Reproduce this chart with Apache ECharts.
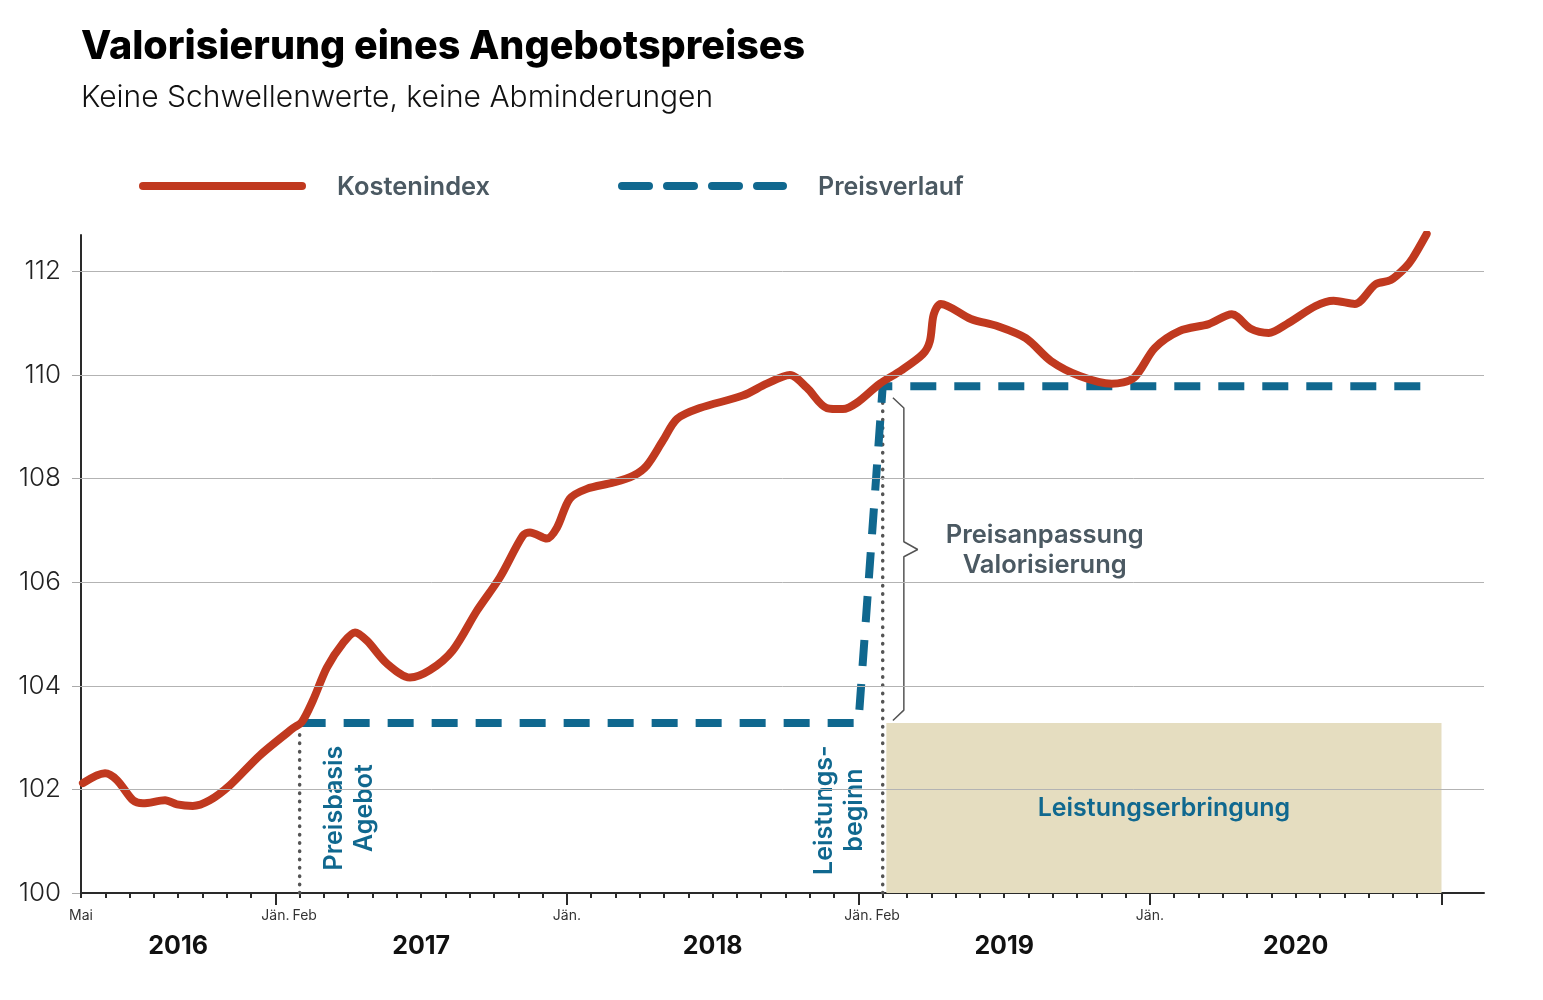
<!DOCTYPE html>
<html>
<head>
<meta charset="utf-8">
<script src="https://cdn.jsdelivr.net/npm/echarts@6/dist/echarts.min.js"></script>
<style>
html,body{margin:0;padding:0;background:#fff;}
#chart{width:1543px;height:1000px;}
</style>
</head>
<body>
<div id="chart"></div>
<script>
// ---- Data (x = months since Jan 2016; Mai 2016 = 4) ----
const kostenMonths = [4.08,4.99,5.48,6.14,6.55,7.46,7.95,8.6,9.3,10.13,11.37,12.73,13.09,13.55,14.12,14.78,15.28,15.77,16.59,17.54,18.36,19.3,20.3,21.24,22.19,22.48,23.18,23.59,24.12,24.82,25.89,26.72,27.29,27.95,28.53,29.47,31.24,32.23,33.18,33.88,34.7,35.36,35.93,36.88,37.74,38.65,38.94,39.1,39.39,40.63,41.74,42.89,43.92,45.11,46.43,47.33,48.2,49.23,50.42,51.37,52.15,52.89,53.63,54.82,55.56,56.43,57.29,57.91,58.49,58.81,59.39];
const kostenValues = [102.12,102.31,102.18,101.79,101.73,101.79,101.71,101.68,101.79,102.08,102.66,103.18,103.3,103.72,104.35,104.82,105.03,104.87,104.43,104.16,104.3,104.68,105.45,106.09,106.9,106.96,106.84,107.05,107.61,107.8,107.92,108.05,108.25,108.73,109.15,109.36,109.6,109.83,110.0,109.75,109.36,109.34,109.46,109.83,110.08,110.4,110.65,111.17,111.37,111.08,110.94,110.71,110.27,109.98,109.83,109.94,110.52,110.85,110.98,111.17,110.89,110.81,110.98,111.33,111.43,111.37,111.75,111.83,112.06,112.25,112.72];

const preisMonths = [13, 36, 37, 59.2];
const preisValues = [103.28, 103.28, 109.78, 109.78];

const yTickValues = [100, 102, 104, 106, 108, 110, 112];
const gridLineValues = [102, 104, 106, 108, 110, 112];

const monthLabelPos = [4, 12, 13, 24, 36, 37, 48];
const monthLabelText = ['Mai', 'Jän.', 'Feb', 'Jän.', 'Jän.', 'Feb', 'Jän.'];
const yearLabelPos = [8, 18, 30, 42, 54];
const yearLabelText = ['2016', '2017', '2018', '2019', '2020'];
const yearTickPos = [12, 24, 36, 48, 60];

const leistungStart = 37.15, leistungEnd = 60, preisBasis = 103.28;

const braceMonths = [37.42, 37.87, 37.87, 38.44, 37.87, 37.87, 37.42];
const braceValues = [109.56, 109.36, 106.78, 106.63, 106.49, 103.53, 103.33];

const RED = '#c0391f', BLUE = '#10688f', GREY_TXT = '#4b5962', FONT = 'Inter';

const monthTicks = [];
for (let m = 4; m <= 60; m++) monthTicks.push(m);

const chart = echarts.init(document.getElementById('chart'), null, {renderer: 'canvas'});

const zip = (a, b) => a.map((v, i) => [v, b[i]]);

const option = {
  animation: false,
  backgroundColor: '#fff',
  textStyle: {fontFamily: FONT},
  grid: {left: 81, right: 59, top: 235, bottom: 107, containLabel: false},
  xAxis: [
    {
      type: 'value', min: 4, max: 61.75, interval: 1, position: 'bottom',
      axisLine: {show: true, lineStyle: {color: '#2a2a2a', width: 2}},
      axisTick: {show: true, customValues: monthTicks, length: 5, lineStyle: {color: '#2a2a2a', width: 2}},
      axisLabel: {
        show: true, customValues: monthLabelPos,
        formatter: v => {
          const t = monthLabelText[monthLabelPos.indexOf(v)] || '';
          return t === 'Feb' ? '{f|Feb}' : t;
        },
        rich: {f: {fontSize: 14, color: '#333', fontFamily: FONT, padding: [0, 0, 0, 10]}},
        fontSize: 14, color: '#333', margin: 16, fontFamily: FONT
      },
      splitLine: {show: false}
    },
    {
      type: 'value', min: 4, max: 61.75, interval: 1, position: 'bottom',
      axisLine: {show: false},
      axisTick: {show: true, customValues: yearTickPos, length: 12, lineStyle: {color: '#2a2a2a', width: 2}},
      axisLabel: {
        show: true, customValues: yearLabelPos,
        formatter: v => yearLabelText[yearLabelPos.indexOf(v)] || '',
        fontSize: 25, fontWeight: 'bold', color: '#111', margin: 41, fontFamily: FONT
      },
      splitLine: {show: false}
    }
  ],
  yAxis: {
    type: 'value', min: 100, max: 112.7, interval: 2,
    axisLine: {show: true, lineStyle: {color: '#2a2a2a', width: 2}},
    axisTick: {show: true, customValues: yTickValues, length: 9, lineStyle: {color: '#aaa', width: 1}},
    axisLabel: {customValues: yTickValues, fontSize: 26, color: '#222', margin: 20, fontWeight: 300, fontFamily: FONT},
    splitLine: {show: false}
  },
  series: [
    {
      name: 'helper', type: 'line', data: [[4, 100]], symbol: 'none',
      lineStyle: {opacity: 0}, z: 1, silent: true,
      markLine: {
        silent: true, symbol: ['none', 'none'], label: {show: false},
        lineStyle: {color: '#b3b3b3', width: 1, type: 'solid'},
        data: gridLineValues.map(v => ({yAxis: v}))
      },
      markArea: {
        silent: true,
        itemStyle: {color: '#e5ddc0'},
        label: {show: true, position: 'inside', fontSize: 25, fontWeight: 600, color: BLUE, fontFamily: FONT},
        data: [[{name: 'Leistungserbringung', coord: [leistungStart, 100]}, {coord: [leistungEnd, preisBasis]}]]
      }
    },
    {
      name: 'dot1', type: 'line', symbol: 'none', silent: true, z: 2,
      data: [[13, 100], [13, 103.2]],
      lineStyle: {color: '#555', width: 3.5, type: [0.5, 7.8], cap: 'round'}
    },
    {
      name: 'dot2', type: 'line', symbol: 'none', silent: true, z: 2,
      data: [[37, 100], [37, 109.6]],
      lineStyle: {color: '#555', width: 3.5, type: [0.5, 7.8], cap: 'round'}
    },
    {
      name: 'Preisverlauf', type: 'line', symbol: 'none', z: 3,
      data: zip(preisMonths, preisValues),
      lineStyle: {color: BLUE, width: 8, type: [26, 18]}
    },
    {
      name: 'Kostenindex', type: 'line', symbol: 'none', z: 4, smooth: 0.3,
      data: zip(kostenMonths, kostenValues),
      lineStyle: {color: RED, width: 8, cap: 'round', join: 'round'}
    },
    {
      name: 'brace', type: 'line', symbol: 'none', silent: true, z: 3,
      data: zip(braceMonths, braceValues),
      lineStyle: {color: '#555', width: 1.5}
    }
  ]
};
chart.setOption(option);

// Annotations anchored to data coordinates
const px = (m, v) => chart.convertToPixel({xAxisIndex: 0, yAxisIndex: 0}, [m, v]);
const pB = px(15.07, 101.64);
const pL = px(35.23, 101.6);
const pP = px(43.67, 106.61);

chart.setOption({
  graphic: [
    {type: 'text', x: 81, y: 47, style: {text: 'Valorisierung eines Angebotspreises', font: '800 39.5px Inter', fill: '#000', verticalAlign: 'middle'}},
    {type: 'text', x: 81, y: 98, style: {text: 'Keine Schwellenwerte, keine Abminderungen', font: '300 30px Inter', fill: '#111', verticalAlign: 'middle'}},
    {type: 'line', shape: {x1: 143, y1: 186, x2: 302, y2: 186}, style: {stroke: RED, lineWidth: 8, lineCap: 'round'}},
    {type: 'text', x: 337, y: 187, style: {text: 'Kostenindex', font: '600 25.5px Inter', fill: GREY_TXT, verticalAlign: 'middle'}},
    {type: 'line', shape: {x1: 622, y1: 186, x2: 783, y2: 186}, style: {stroke: BLUE, lineWidth: 8, lineCap: 'round', lineDash: [27, 18]}},
    {type: 'text', x: 818, y: 187, style: {text: 'Preisverlauf', font: '600 25px Inter', fill: GREY_TXT, verticalAlign: 'middle'}},
    {type: 'text', x: pB[0], y: pB[1], rotation: Math.PI / 2,
      style: {text: 'Preisbasis\nAgebot', font: '600 25px Inter', fill: BLUE, align: 'center', verticalAlign: 'middle', lineHeight: 30}},
    {type: 'text', x: pL[0], y: pL[1], rotation: Math.PI / 2,
      style: {text: 'Leistungs-\nbeginn', font: '600 25px Inter', fill: BLUE, align: 'center', verticalAlign: 'middle', lineHeight: 30}},
    {type: 'text', x: pP[0], y: pP[1],
      style: {text: 'Preisanpassung\nValorisierung', font: '600 25.5px Inter', fill: GREY_TXT, align: 'center', verticalAlign: 'middle', lineHeight: 30}}
  ]
});
</script>
</body>
</html>
